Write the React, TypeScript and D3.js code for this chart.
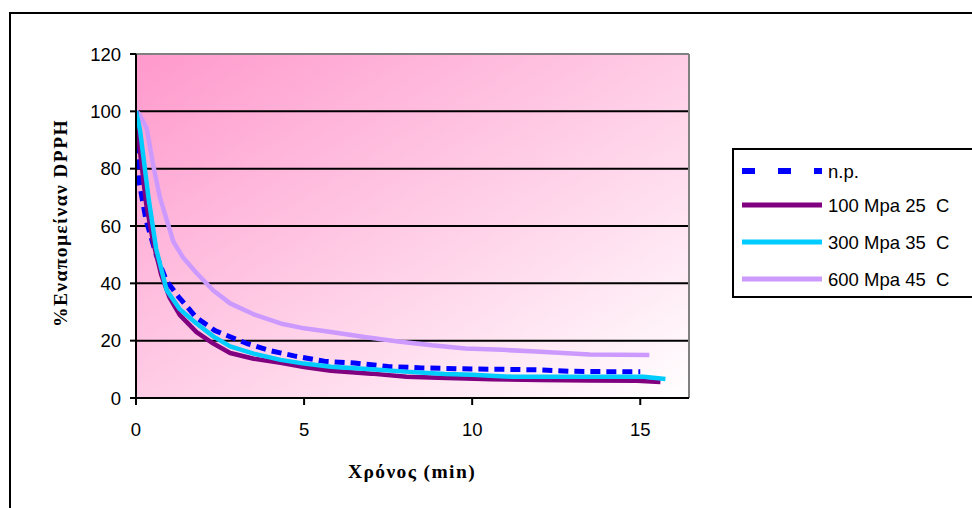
import React from "react";
import * as d3 from "d3";

const yTicks = [0, 20, 40, 60, 80, 100, 120];
const xTicks = [0, 5, 10, 15];

const npT = [0, 0.1, 0.3, 0.6, 0.9, 1.26, 1.8, 2.35, 3.3, 4, 4.7, 5.6, 6.5, 7.5, 8.5, 10, 11, 12, 13, 14, 15];
const npV = [100, 75, 62, 50, 41, 35.4, 28, 23.5, 19, 16.5, 14.7, 12.8, 12.2, 11, 10.5, 10.1, 10, 9.8, 9.3, 9.2, 9.2];

const p100T = [0, 0.1, 0.3, 0.5, 0.75, 1, 1.3, 1.8, 2.3, 2.8, 3.5, 4.3, 5, 5.8, 7, 8.05, 9, 10.6, 12, 13.5, 14.9, 15.6];
const p100V = [100, 88, 68, 55, 43, 35, 29, 23, 19, 15.7, 13.7, 12.3, 10.8, 9.5, 8.5, 7.4, 7.1, 6.5, 6.3, 6.1, 6, 5.6];

const p300T = [0, 0.12, 0.37, 0.6, 0.91, 1.3, 1.8, 2.3, 2.8, 3.5, 4.3, 5, 5.8, 7, 8, 9.2, 10, 11.2, 12.5, 14, 15.1, 15.75];
const p300V = [100, 93.5, 70, 52, 37.7, 31, 26, 21.5, 18, 15.5, 13.3, 12, 10.9, 10, 9.2, 8.4, 8.1, 7.4, 7.4, 7.4, 7.4, 6.6];

const p600T = [0, 0.1, 0.32, 0.5, 0.71, 1.11, 1.4, 1.8, 2.3, 2.8, 3.5, 4.3, 5, 5.8, 6.8, 7.8, 8.8, 9.8, 10.9, 11.9, 13.5, 15.27];
const p600V = [100, 99, 94, 82, 70, 54.6, 49, 43.6, 37.5, 33, 29.2, 26, 24.3, 23, 21.3, 19.7, 18.4, 17.3, 16.8, 16.2, 15.2, 15];

const seriesNames = ["n.p.", "100 Mpa 25\u00A0\u00A0C", "300 Mpa 35\u00A0\u00A0C", "600 Mpa 45\u00A0\u00A0C"];
const seriesColors = ["#0000FF", "#800080", "#00CCFF", "#CC99FF"];

const W = 972;
const H = 508;
const plot = { left: 136, top: 54, right: 689, bottom: 398 };

export default function App() {
  const x = d3.scaleLinear().domain([0, 16.45]).range([plot.left, plot.right]);
  const y = d3.scaleLinear().domain([0, 120]).range([plot.bottom, plot.top]);

  const series = [
    { name: seriesNames[0], color: seriesColors[0], t: npT, v: npV, width: 5, dash: "10 6" },
    { name: seriesNames[1], color: seriesColors[1], t: p100T, v: p100V, width: 4.5, dash: undefined },
    { name: seriesNames[2], color: seriesColors[2], t: p300T, v: p300V, width: 4.5, dash: undefined },
    { name: seriesNames[3], color: seriesColors[3], t: p600T, v: p600V, width: 4.5, dash: undefined },
  ];
  const drawOrder = [3, 0, 1, 2];

  const line = d3
    .line<[number, number]>()
    .x((d) => x(d[0]))
    .y((d) => y(d[1]));

  const legendX = 733;
  const legendTop = 149;
  const legendRows = [171, 205, 242, 279];

  return (
    <svg
      width={W}
      height={H}
      style={{ position: "absolute", left: 0, top: 0, background: "#fff" }}
      fontFamily="Arial, 'Liberation Sans', sans-serif"
    >
      <defs>
        <linearGradient id="bg" x1="0" y1="0" x2="1" y2="1">
          <stop offset="0" stopColor="#FF99CC" />
          <stop offset="1" stopColor="#FFFFFF" />
        </linearGradient>
        <clipPath id="clip">
          <rect x={plot.left} y={plot.top - 5} width={plot.right - plot.left + 20} height={plot.bottom - plot.top + 5} />
        </clipPath>
      </defs>
      <rect x={10} y={13} width={1000} height={600} fill="#fff" stroke="#000" strokeWidth={2} />
      <rect
        x={plot.left}
        y={plot.top}
        width={plot.right - plot.left}
        height={plot.bottom - plot.top}
        fill="url(#bg)"
      />
      {yTicks.filter((t) => t > 0 && t < 120).map((t) => (
        <line key={t} x1={plot.left} x2={plot.right} y1={y(t)} y2={y(t)} stroke="#000" strokeWidth={2} />
      ))}
      <line x1={plot.left} x2={plot.right} y1={plot.top} y2={plot.top} stroke="#808080" strokeWidth={2} />
      <line x1={plot.right} x2={plot.right} y1={plot.top} y2={plot.bottom} stroke="#808080" strokeWidth={2} />
      <g clipPath="url(#clip)">
        {drawOrder.map((i) => {
          const s = series[i];
          const pts = s.t.map((t, k) => [t, s.v[k]] as [number, number]);
          return (
            <path
              key={s.name}
              d={line(pts) || ""}
              fill="none"
              stroke={s.color}
              strokeWidth={s.width}
              strokeDasharray={s.dash}
              strokeLinejoin="bevel"
            />
          );
        })}
      </g>
      <line x1={plot.left} x2={plot.left} y1={plot.top} y2={plot.bottom} stroke="#000" strokeWidth={2} />
      <line x1={plot.left - 6} x2={plot.right} y1={plot.bottom} y2={plot.bottom} stroke="#000" strokeWidth={2} />
      {yTicks.map((t) => (
        <g key={t}>
          <line x1={plot.left - 6} x2={plot.left} y1={y(t)} y2={y(t)} stroke="#000" strokeWidth={2} />
          <text x={plot.left - 15} y={y(t)} dy="0.36em" textAnchor="end" fontSize={18.5}>
            {t}
          </text>
        </g>
      ))}
      {xTicks.map((t) => (
        <g key={t}>
          <line x1={x(t)} x2={x(t)} y1={plot.bottom} y2={plot.bottom + 7} stroke="#000" strokeWidth={2} />
          <text x={x(t)} y={429} dy="0.36em" textAnchor="middle" fontSize={18.5}>
            {t}
          </text>
        </g>
      ))}
      <text
        x={412}
        y={472}
        dy="0.3em"
        textAnchor="middle"
        fontSize={19.5}
        fontWeight="bold"
        letterSpacing={1.4}
        fontFamily="'Liberation Serif', 'Times New Roman', serif"
      >
        Χρόνος (min)
      </text>
      <text
        transform={`translate(60, 223) rotate(-90)`}
        dy="0.35em"
        textAnchor="middle"
        fontSize={19.5}
        fontWeight="bold"
        letterSpacing={1.4}
        fontFamily="'Liberation Serif', 'Times New Roman', serif"
      >
        %Εναπομείναν DPPH
      </text>
      <rect x={legendX} y={legendTop} width={400} height={148} fill="#fff" stroke="#000" strokeWidth={2} />
      {series.map((s, i) => (
        <g key={s.name}>
          <line
            x1={legendX + 9}
            x2={legendX + 89}
            y1={legendRows[i]}
            y2={legendRows[i]}
            stroke={s.color}
            strokeWidth={s.dash ? 6 : 5}
            strokeDasharray={s.dash ? "13 23" : undefined}
          />
          <text x={legendX + 95} y={legendRows[i]} dy="0.36em" fontSize={18.5}>
            {s.name}
          </text>
        </g>
      ))}
    </svg>
  );
}
